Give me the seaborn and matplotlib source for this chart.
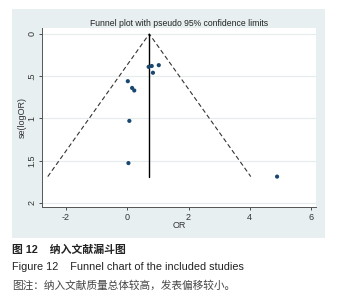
import matplotlib
matplotlib.use("Agg")
import matplotlib.pyplot as plt
import numpy as np
import pandas as pd
import seaborn as sns
from matplotlib.patches import Rectangle

# study estimates
odds_ratio = [0.70, 0.80, 1.03, 0.84, 0.02, 0.16, 0.23, 0.07, 0.04, 4.89]
se_log_or = [0.39, 0.38, 0.37, 0.46, 0.56, 0.64, 0.67, 1.03, 1.53, 1.69]
pooled_or = 0.72
se_max = 1.69

x_ticks = [-2, 0, 2, 4, 6]
y_ticks = [0, 0.5, 1, 1.5, 2]
y_tick_labels = ["0", ".5", "1", "1.5", "2"]

title = "Funnel plot with pseudo 95% confidence limits"
caption_cn = "图 12    纳入文献漏斗图"
caption_en = "Figure 12    Funnel chart of the included studies"
caption_note = "图注：纳入文献质量总体较高，发表偏移较小。"

sns.set_theme(style="white")
plt.rcParams["font.family"] = ["Liberation Sans", "Noto Sans CJK SC", "DejaVu Sans"]
plt.rcParams["axes.unicode_minus"] = False

W, H = 351, 300
fig = plt.figure(figsize=(W / 100, H / 100), dpi=100)
fig.patch.set_facecolor("white")

# Stata-like outer panel
panel_bg = "#e7eff0"
fig.patches.append(Rectangle((12 / W, 1 - 238 / H), 313 / W, 229 / H,
                             transform=fig.transFigure, facecolor=panel_bg,
                             edgecolor="none", zorder=-1))

ax = fig.add_axes([42 / W, 1 - 207 / H, 274 / W, 179 / H])
ax.set_zorder(2)
ax.set_facecolor("white")

df = pd.DataFrame({"OR": odds_ratio, "se": se_log_or})

# pseudo 95% confidence limits
funnel = pd.DataFrame({
    "x": [pooled_or - 1.96 * se_max, pooled_or, pooled_or + 1.96 * se_max],
    "y": [se_max, 0, se_max],
})
ax.plot(funnel["x"], funnel["y"], color="#333333", lw=0.8, ls=(0, (4, 2.5)))
ax.plot([pooled_or, pooled_or], [0, se_max], color="black", lw=1.0)

sns.scatterplot(data=df, x="OR", y="se", ax=ax, color="#1a476f", s=9,
                edgecolor="none", zorder=3)

ax.set_xlim(-2.78, 6.16)
ax.set_ylim(2.05, -0.07)
ax.set_xticks(x_ticks)
ax.set_yticks(y_ticks)
ax.set_yticklabels(y_tick_labels, rotation=90, va="center")
ax.yaxis.grid(True, color="#e4eced", lw=0.8)
ax.set_axisbelow(True)

for side in ["top", "right"]:
    ax.spines[side].set_visible(False)
for side in ["left", "bottom"]:
    ax.spines[side].set_color("#555555")
    ax.spines[side].set_linewidth(0.7)

ax.tick_params(axis="both", labelsize=6.5, colors="#333333", length=2.5,
               width=0.6, direction="out", pad=2, left=True, bottom=True)
ax.tick_params(axis="y", pad=1.5)
ax.set_xlabel("OR", fontsize=6.5, color="#333333", labelpad=-1)
ax.set_ylabel("se(logOR)", fontsize=6.5, color="#333333", labelpad=0.5)

fig.text(179 / W, 1 - 23 / H, title, ha="center", va="center",
         fontsize=6.2, color="#222222")

fig.text(12 / W, 1 - 250 / H, caption_cn, ha="left", va="center",
         fontsize=7.8, fontweight="bold", color="#222222")
fig.text(12 / W, 1 - 267 / H, caption_en, ha="left", va="center",
         fontsize=7.8, color="#222222")
fig.text(12 / W, 1 - 285 / H, caption_note, ha="left", va="center",
         fontsize=7.7, color="#444444")

fig.savefig("out.png", dpi=100)
